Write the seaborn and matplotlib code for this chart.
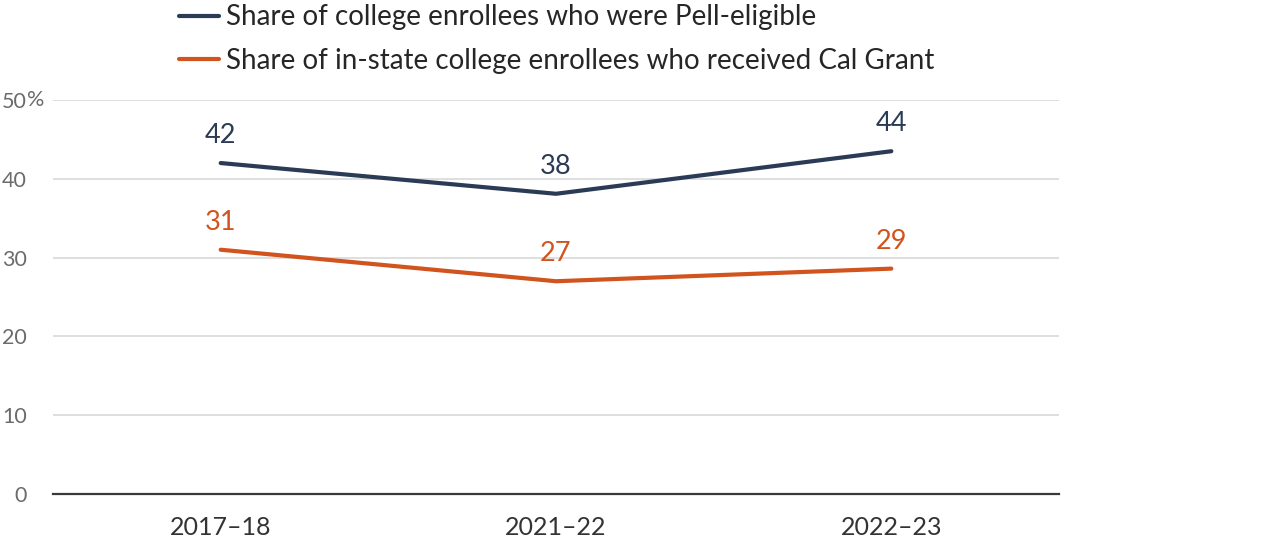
import pandas as pd
import matplotlib
matplotlib.use('Agg')
import matplotlib.pyplot as plt
import seaborn as sns

sns.set_style("white")
plt.rcParams['font.family'] = ['Lato', 'DejaVu Sans']

# ====================== DATA ======================
years = ['2017–18', '2021–22', '2022–23']
pell = [42.0, 38.1, 43.5]
calgrant = [31.0, 27.0, 28.6]
pell_labels = ['42', '38', '44']
calgrant_labels = ['31', '27', '29']
series_names = ['Share of college enrollees who were Pell-eligible',
                'Share of in-state college enrollees who received Cal Grant']
colors = ['#2b3b55', '#d1541e']
y_ticks = [0, 10, 20, 30, 40, 50]

df = pd.DataFrame({
    'year': years * 2,
    'value': pell + calgrant,
    'series': [series_names[0]] * 3 + [series_names[1]] * 3,
})

# ====================== PLOT ======================
fig = plt.figure(figsize=(12.8, 5.48), dpi=100)
ax = fig.add_axes([53 / 1280, 1 - 494 / 548, (1059 - 53) / 1280, (494 - 100) / 548])

sns.lineplot(data=df, x='year', y='value', hue='series', palette=colors,
             lw=3, sort=False, ax=ax, legend=True)

ax.set_xlim(-0.5, 2.5)
ax.set_ylim(0, 50)
ax.set_yticks(y_ticks)
ax.set_yticklabels([str(t) for t in y_ticks])
ax.grid(axis='y', color='#d9d9d9', lw=1.2)
ax.set_axisbelow(True)
for s in ['top', 'right', 'left']:
    ax.spines[s].set_visible(False)
ax.spines['bottom'].set_color('#3a3a3a')
ax.spines['bottom'].set_linewidth(1.6)
ax.tick_params(axis='y', length=0, pad=19, labelsize=15.5, labelcolor='#6b6b6b')
ax.tick_params(axis='x', length=0, pad=16, labelsize=18, labelcolor='#333333')
ax.set_xlabel('')
ax.set_ylabel('')
# % sign after the top tick label
ax.annotate('%', xy=(0, 50), xycoords=('axes fraction', 'data'),
            xytext=(-26, 0), textcoords='offset pixels',
            ha='left', va='center', fontsize=15.5, color='#6b6b6b')

# data labels
for vals, labs, c in [(pell, pell_labels, colors[0]), (calgrant, calgrant_labels, colors[1])]:
    for i, (v, t) in enumerate(zip(vals, labs)):
        ax.annotate(t, xy=(i, v), xytext=(0, 20), textcoords='offset pixels',
                    ha='center', va='baseline', fontsize=19.5, color=c)

handles, labels = ax.get_legend_handles_labels()
ax.legend(handles, labels, loc='upper left', bbox_to_anchor=(176 / 1280, 0.997),
          bbox_transform=fig.transFigure, frameon=False, fontsize=20,
          handlelength=1.45, handletextpad=0.25, labelspacing=0.62,
          borderaxespad=0.0, borderpad=0.1)

plt.savefig('out.png', dpi=100)
